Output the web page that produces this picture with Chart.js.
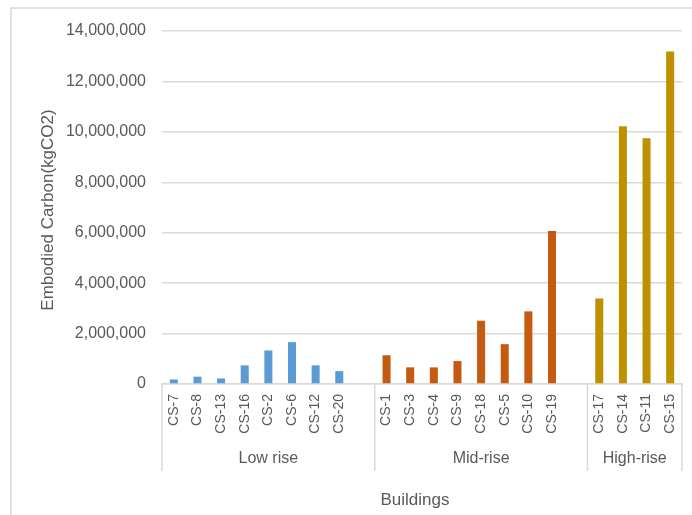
<!DOCTYPE html>
<html>
<head>
<meta charset="utf-8">
<script src="https://cdn.jsdelivr.net/npm/chart.js@4.4.0/dist/chart.umd.min.js"></script>
<style>
    html, body { margin: 0; padding: 0; background: #ffffff; }
    #wrap { width: 692px; height: 515px; position: relative; }
</style>
</head>
<body>
<div id="wrap"><canvas id="carbonChart"></canvas></div>
<script>
// Embodied carbon per case-study building, grouped by building height
const lowRiseLabels = ['CS-7', 'CS-8', 'CS-13', 'CS-16', 'CS-2', 'CS-6', 'CS-12', 'CS-20'];
const lowRiseValues = [180000, 290000, 220000, 740000, 1330000, 1660000, 740000, 510000];

const midRiseLabels = ['CS-1', 'CS-3', 'CS-4', 'CS-9', 'CS-18', 'CS-5', 'CS-10', 'CS-19'];
const midRiseValues = [1140000, 660000, 660000, 910000, 2510000, 1580000, 2880000, 6070000];

const highRiseLabels = ['CS-17', 'CS-14', 'CS-11', 'CS-15'];
const highRiseValues = [3390000, 10220000, 9750000, 13190000];

const groupNames = ['Low rise', 'Mid-rise', 'High-rise'];
const groupColors = ['#5B9BD5', '#C55A11', '#BF9000'];
const yTickValues = [0, 2000000, 4000000, 6000000, 8000000, 10000000, 12000000, 14000000];

const TEXT = '#595959';
const LINE = '#D9D9D9';
const FONT = "'Liberation Sans', Arial, sans-serif";

// one blank slot follows the low and mid rise groups
const groups = [
    { labels: lowRiseLabels, values: lowRiseValues, gap: true },
    { labels: midRiseLabels, values: midRiseValues, gap: true },
    { labels: highRiseLabels, values: highRiseValues, gap: false }
];

const labels = [];
const ranges = [];
groups.forEach(g => {
    const start = labels.length;
    labels.push(...g.labels);
    if (g.gap) labels.push('');
    ranges.push({ start: start, end: labels.length - 1 });
});

const datasets = groups.map((g, i) => {
    const data = labels.map(() => null);
    g.values.forEach((v, j) => { data[ranges[i].start + j] = v; });
    return {
        label: groupNames[i],
        data: data,
        backgroundColor: groupColors[i],
        borderWidth: 0,
        grouped: false,
        barPercentage: 0.34,
        categoryPercentage: 1
    };
});

const decorPlugin = {
    id: 'decor',
    beforeDraw(chart) {
        const ctx = chart.ctx;
        ctx.save();
        ctx.fillStyle = '#ffffff';
        ctx.fillRect(0, 0, chart.width, chart.height);
        ctx.strokeStyle = LINE;
        ctx.lineWidth = 1.5;
        ctx.beginPath();
        ctx.moveTo(11, chart.height + 2);
        ctx.lineTo(11, 8);
        ctx.lineTo(chart.width + 2, 8);
        ctx.stroke();
        ctx.restore();
    },
    afterDraw(chart) {
        const ctx = chart.ctx;
        const x = chart.scales.x;
        const area = chart.chartArea;
        const half = (x.getPixelForValue(1) - x.getPixelForValue(0)) / 2;

        ctx.save();
        // group dividers under the category axis
        ctx.strokeStyle = LINE;
        ctx.lineWidth = 1.5;
        const edges = [area.left];
        ranges.forEach(r => edges.push(x.getPixelForValue(r.end) + half));
        edges.forEach(px => {
            ctx.beginPath();
            ctx.moveTo(px, area.bottom);
            ctx.lineTo(px, 471);
            ctx.stroke();
        });

        ctx.fillStyle = TEXT;
        ctx.textAlign = 'center';
        ctx.textBaseline = 'middle';
        ctx.font = '16px ' + FONT;
        ranges.forEach((r, i) => {
            const left = x.getPixelForValue(r.start) - half;
            const right = x.getPixelForValue(r.end) + half;
            ctx.fillText(groupNames[i], (left + right) / 2, 459);
        });

        // axis titles
        ctx.font = '17px ' + FONT;
        ctx.fillText('Buildings', 415, 500);
        ctx.translate(48, 210);
        ctx.rotate(-Math.PI / 2);
        ctx.fillText('Embodied Carbon(kgCO2)', 0, 0);
        ctx.restore();
    }
};

new Chart(document.getElementById('carbonChart'), {
    type: 'bar',
    data: { labels: labels, datasets: datasets },
    plugins: [decorPlugin],
    options: {
        responsive: true,
        maintainAspectRatio: false,
        animation: false,
        layout: { padding: { left: 0, top: 31, right: 10, bottom: 0 } },
        plugins: {
            legend: { display: false },
            tooltip: { enabled: false }
        },
        scales: {
            x: {
                grid: { display: false, drawTicks: false },
                border: { display: true, color: LINE, width: 1.5 },
                ticks: {
                    autoSkip: false,
                    minRotation: 90,
                    maxRotation: 90,
                    padding: 10,
                    color: TEXT,
                    font: { family: FONT, size: 14 }
                },
                afterFit(scale) {
                    scale.height = 131;
                    scale.paddingLeft = 0;
                    scale.paddingRight = 0;
                }
            },
            y: {
                min: 0,
                max: 14000000,
                grid: { color: LINE, lineWidth: 1.5, drawTicks: false },
                border: { display: false },
                afterBuildTicks(scale) {
                    scale.ticks = yTickValues.map(v => ({ value: v }));
                },
                ticks: {
                    padding: 16,
                    color: TEXT,
                    font: { family: FONT, size: 16 },
                    callback: v => Number(v).toLocaleString('en-US')
                },
                afterFit(scale) {
                    scale.width = 162;
                    scale.paddingTop = 0;
                    scale.paddingBottom = 0;
                }
            }
        }
    }
});
</script>
</body>
</html>
